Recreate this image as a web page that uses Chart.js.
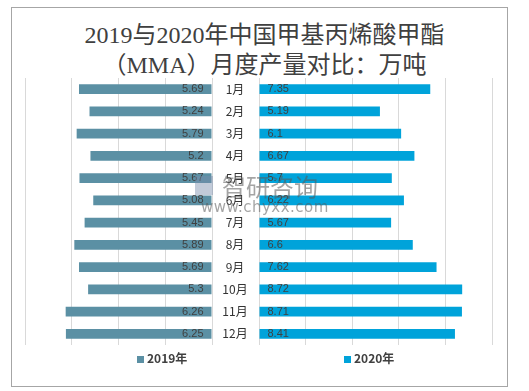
<!DOCTYPE html>
<html lang="zh">
<head>
  <meta charset="UTF-8">
  <title>MMA 月度产量对比</title>
  <script src="https://cdn.jsdelivr.net/npm/chart.js"></script>
  <style>
    body { margin: 0; background: #fff; }
    #wrap { position: relative; width: 529px; height: 391px; overflow: hidden; }
    .layer { position: absolute; left: 0; top: 0; width: 529px; height: 391px; }
    #frame { position: absolute; left: 11px; top: 7px; width: 495px; height: 378px; border: 1px solid #a6a6a6; }
    #title {
      position: absolute; left: 0; top: 20px; width: 529px; text-align: center;
      font-family: "Liberation Serif", "Noto Sans CJK SC", serif; font-size: 24px;
      line-height: 30px; color: #404040;
    }
    .leg { position: absolute; top: 349px; font: bold 12px "Noto Sans CJK SC", sans-serif; color: #404040; }
    .leg i { display: inline-block; width: 7px; height: 7px; margin-right: 3px; vertical-align: 0px; }
    #wm1 { position: absolute; left: 222px; top: 168px; font: 24px "Noto Sans CJK SC", sans-serif; color: rgba(90,90,90,0.55); }
    #wm2 { position: absolute; left: 201px; top: 198px; font: 15px "DejaVu Sans", sans-serif; color: rgba(90,90,90,0.55); letter-spacing: 0.5px; }
    #wmlogo { position: absolute; left: 195px; top: 176px; width: 18px; height: 19px; background: rgba(120,140,170,0.45); }
  </style>
</head>
<body>
<div id="wrap">
  <div id="frame"></div>
  <div id="title">2019与2020年中国甲基丙烯酸甲酯<br>（MMA）月度产量对比：万吨</div>
  <div class="layer"><canvas id="left"></canvas></div>
  <div class="layer"><canvas id="right"></canvas></div>
  <div class="leg" style="left:137px"><i style="background:#5b90a4"></i>2019年</div>
  <div class="leg" style="left:344px"><i style="background:#00a3da"></i>2020年</div>
  <div id="wmlogo"></div>
  <div id="wm1">智研咨询</div>
  <div id="wm2">www.chyxx.com</div>
</div>
<script>
  const months = ['1月','2月','3月','4月','5月','6月','7月','8月','9月','10月','11月','12月'];
  const y2019 = [5.69, 5.24, 5.79, 5.2, 5.67, 5.08, 5.45, 5.89, 5.69, 5.3, 6.26, 6.25];
  const y2020 = [7.35, 5.19, 6.1, 6.67, 5.7, 6.22, 5.67, 6.6, 7.62, 8.72, 8.71, 8.41];

  // 数值标签，写在柱子靠近中轴的一端
  const valueLabels = {
    id: 'valueLabels',
    afterDatasetsDraw(chart, args, opts) {
      const c = chart.ctx;
      const meta = chart.getDatasetMeta(0);
      const vals = chart.data.datasets[0].data;
      c.save();
      c.font = '11px "Liberation Sans", sans-serif';
      c.fillStyle = '#404040';
      c.textBaseline = 'middle';
      meta.data.forEach((bar, i) => {
        if (opts.side === 'left') {
          c.textAlign = 'right';
          c.fillText(String(vals[i]), bar.base - 8, bar.y);
        } else {
          c.textAlign = 'left';
          c.fillText(String(vals[i]), bar.base + 8, bar.y);
        }
      });
      c.restore();
    }
  };

  // 中间的月份标签
  const monthLabels = {
    id: 'monthLabels',
    afterDraw(chart) {
      const c = chart.ctx;
      const ys = chart.scales.y;
      c.save();
      c.font = '12px "Noto Sans CJK SC", sans-serif';
      c.fillStyle = '#333';
      c.textAlign = 'center';
      c.textBaseline = 'middle';
      chart.data.labels.forEach((lab, i) => {
        c.fillText(lab, chart.chartArea.left - 24, ys.getPixelForValue(i));
      });
      c.restore();
    }
  };

  function makeChart(id, data, color, side, max, pad) {
    return new Chart(document.getElementById(id), {
      type: 'bar',
      data: {
        labels: months,
        datasets: [{ label: side === 'left' ? '2019年' : '2020年', data: data, backgroundColor: color,
                     categoryPercentage: 0.44, barPercentage: 1 }]
      },
      options: {
        indexAxis: 'y',
        responsive: true,
        maintainAspectRatio: false,
        animation: false,
        layout: { padding: pad },
        plugins: { legend: { display: false }, tooltip: { enabled: false }, valueLabels: { side: side } },
        scales: {
          x: {
            min: 0, max: max, reverse: side === 'left',
            ticks: { display: false, stepSize: 2 },
            grid: { color: '#d9d9d9', drawTicks: false },
            border: { display: false },
            afterFit(s) { s.height = 0; }
          },
          y: { display: false }
        }
      },
      plugins: side === 'left' ? [valueLabels] : [valueLabels, monthLabels]
    });
  }

  makeChart('left', y2019, '#5b90a4', 'left', 8, { left: 25, right: 317, top: 78, bottom: 46 });
  makeChart('right', y2020, '#00a3da', 'right', 10, { left: 259, right: 37, top: 78, bottom: 46 });
</script>
</body>
</html>
